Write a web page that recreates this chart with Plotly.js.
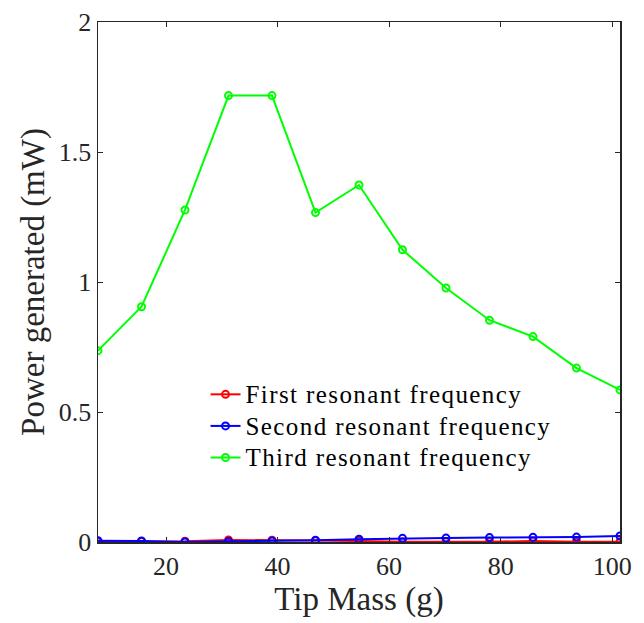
<!DOCTYPE html>
<html>
<head>
<meta charset="utf-8">
<script src="https://cdn.plot.ly/plotly-3.0.1.min.js"></script>
<style>
html,body{margin:0;padding:0;background:#fff;}
#chart{width:644px;height:623px;}
#chart text.legendtext{letter-spacing:1.4px;font-size:25px !important;}
#chart .legend .scrollbox{clip-path:none !important;}
</style>
</head>
<body>
<div id="chart"></div>
<script>
const tipMass = [7.8, 15.6, 23.4, 31.2, 39.0, 46.8, 54.6, 62.4, 70.2, 78.0, 85.8, 93.6, 101.4];
const firstRes = [0.001, 0.002, 0.003, 0.008, 0.007, 0.005, 0.004, 0.001, 0.001, 0.001, 0.004, 0.001, 0.001];
const secondRes = [0.005, 0.004, 0.000, 0.002, 0.004, 0.007, 0.011, 0.014, 0.015, 0.017, 0.018, 0.019, 0.023];
const thirdRes = [0.736, 0.905, 1.277, 1.717, 1.717, 1.267, 1.373, 1.124, 0.977, 0.853, 0.790, 0.669, 0.585];
const seriesNames = ['First resonant frequency', 'Second resonant frequency', 'Third resonant frequency'];
const seriesColors = ['#ff0000', '#0000ff', '#00ff00'];
const xTicks = [20, 40, 60, 80, 100];
const yTicks = [0, 0.5, 1, 1.5, 2];
const yTickLabels = ['0', '0.5', '1', '1.5', '2'];

const FONT = 'Liberation Serif, Times New Roman, serif';
const AX = '#262626';

const ys = [firstRes, secondRes, thirdRes];
const traces = ys.map((y, i) => ({
  x: tipMass, y: y, type: 'scatter', mode: 'lines+markers',
  name: seriesNames[i],
  line: {color: seriesColors[i], width: 2},
  marker: {symbol: 'circle-open', size: 7, color: seriesColors[i], line: {width: 2, color: seriesColors[i]}}
}));

const layout = {
  width: 644, height: 623,
  margin: {l: 98, r: 24, t: 22, b: 81},
  paper_bgcolor: '#fff', plot_bgcolor: '#fff',
  font: {family: FONT, color: AX, size: 22},
  showlegend: true,
  legend: {x: 0.206, y: 0.324, xanchor: 'left', yanchor: 'top', bgcolor: 'rgba(0,0,0,0)',
           font: {family: FONT, size: 22, color: '#000'}},
  xaxis: {
    range: [7.8, 101.4], tickvals: xTicks, ticktext: xTicks.map(String),
    ticks: 'inside', ticklen: 5, tickwidth: 1, tickcolor: AX,
    showline: true, linecolor: AX, linewidth: 1.5, mirror: 'ticks',
    showgrid: false, zeroline: false,
    tickfont: {family: FONT, size: 26, color: AX},
    title: {text: 'Tip Mass (g)', font: {family: FONT, size: 33, color: AX}, standoff: 4}
  },
  yaxis: {
    range: [0, 2], tickvals: yTicks, ticktext: yTickLabels,
    ticks: 'inside', ticklen: 5, tickwidth: 1, tickcolor: AX,
    showline: true, linecolor: AX, linewidth: 1.5, mirror: 'ticks',
    showgrid: false, zeroline: false,
    tickfont: {family: FONT, size: 26, color: AX},
    title: {text: 'Power generated (mW)', font: {family: FONT, size: 33, color: AX}, standoff: 4}
  }
};

Plotly.newPlot('chart', traces, layout, {displayModeBar: false, staticPlot: true});
</script>
</body>
</html>
